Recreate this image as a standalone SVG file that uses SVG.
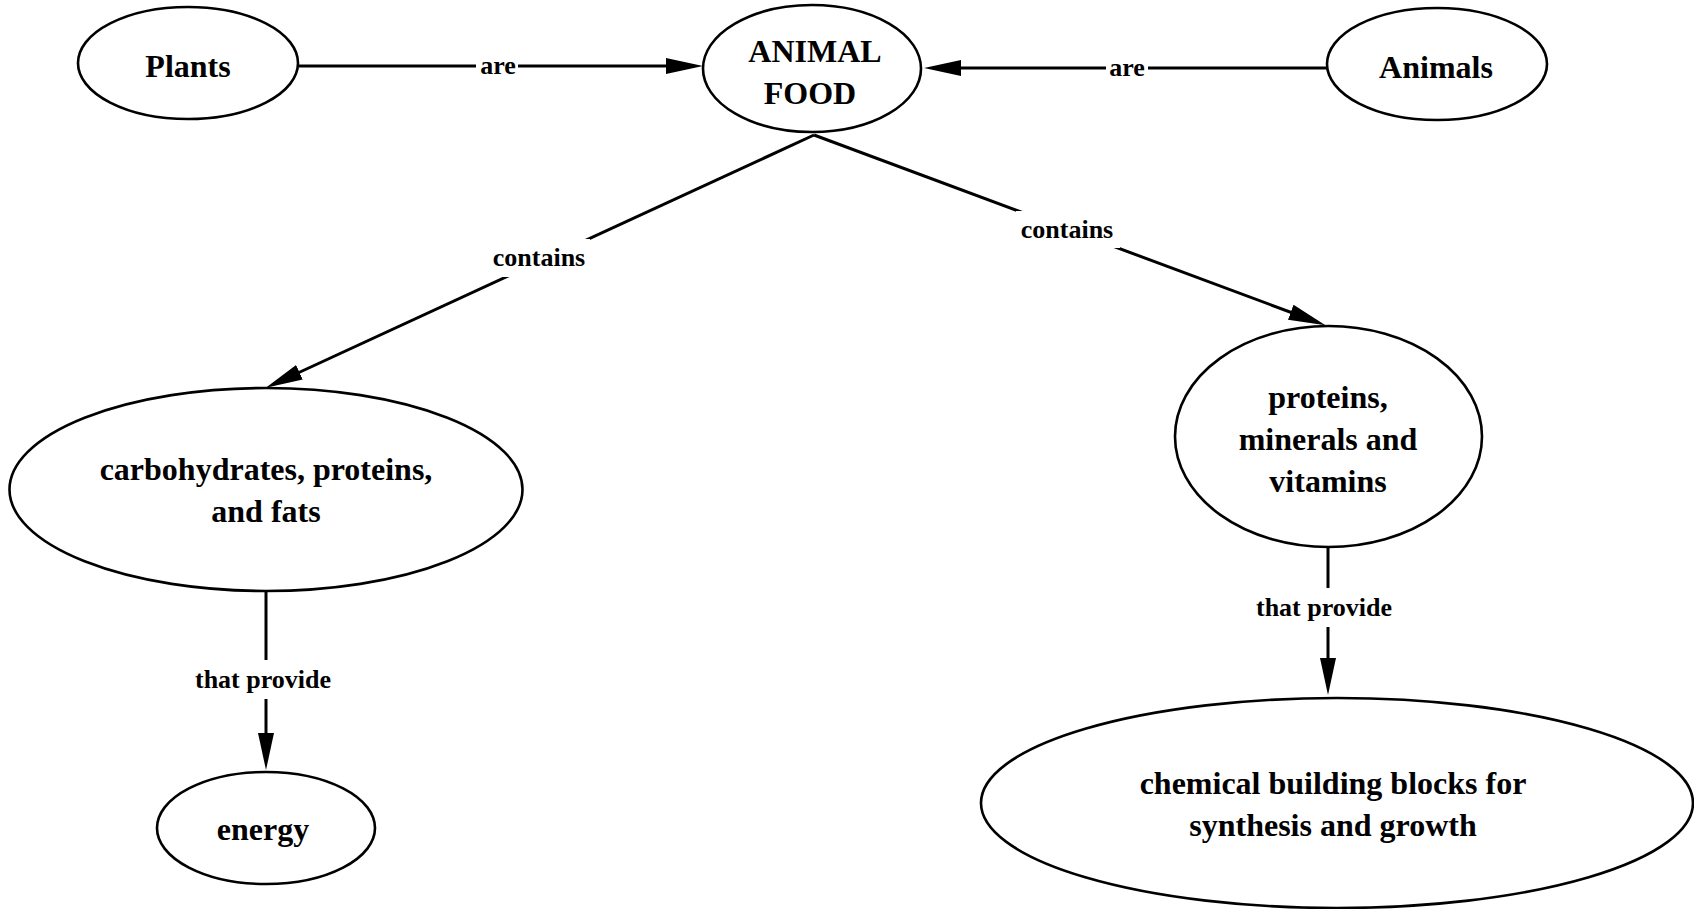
<svg xmlns="http://www.w3.org/2000/svg" width="1694" height="909" viewBox="0 0 1694 909">
  <style>
    .node ellipse { fill: #ffffff; stroke: #000000; stroke-width: 2.6; }
    .node text { font-family: "Liberation Serif", "Times New Roman", serif; font-weight: bold; font-size: 32px; fill: #000000; text-anchor: middle; }
    .edge { fill: none; stroke: #000000; stroke-width: 3; }
    .lbl-bg { fill: #ffffff; stroke: none; }
    .lbl { font-family: "Liberation Serif", "Times New Roman", serif; font-weight: bold; font-size: 26px; fill: #000000; text-anchor: middle; }
  </style>
  <defs>
    <marker id="arrow" markerUnits="userSpaceOnUse" markerWidth="40" markerHeight="20" refX="28" refY="8" orient="auto">
      <path d="M0,0 L37,8 L0,16 Z" fill="#000000"/>
    </marker>
  </defs>
  <rect width="1694" height="909" fill="#ffffff"/>

  <!-- connectors -->
  <g id="connectors">
    <!-- Plants -> ANIMAL FOOD -->
    <line class="edge" x1="299" y1="66" x2="694" y2="66" marker-end="url(#arrow)"/>
    <rect class="lbl-bg" x="476" y="52" width="42" height="28"/>
    <text class="lbl" x="498" y="74">are</text>

    <!-- Animals -> ANIMAL FOOD -->
    <line class="edge" x1="1327" y1="68" x2="933" y2="68" marker-end="url(#arrow)"/>
    <rect class="lbl-bg" x="1106" y="54" width="42" height="28"/>
    <text class="lbl" x="1127" y="76">are</text>

    <!-- ANIMAL FOOD -> carbohydrates -->
    <line class="edge" x1="814" y1="135" x2="274" y2="384" marker-end="url(#arrow)"/>
    <rect class="lbl-bg" x="488" y="239" width="102" height="38"/>
    <text class="lbl" x="539" y="266">contains</text>

    <!-- ANIMAL FOOD -> proteins -->
    <line class="edge" x1="814" y1="135" x2="1317" y2="322" marker-end="url(#arrow)"/>
    <rect class="lbl-bg" x="1016" y="211" width="104" height="37"/>
    <text class="lbl" x="1067" y="238">contains</text>

    <!-- carbohydrates -> energy -->
    <line class="edge" x1="266" y1="591" x2="266" y2="761" marker-end="url(#arrow)"/>
    <rect class="lbl-bg" x="190" y="660" width="150" height="39"/>
    <text class="lbl" x="263" y="688">that provide</text>

    <!-- proteins -> chemical building blocks -->
    <line class="edge" x1="1328" y1="547" x2="1328" y2="686" marker-end="url(#arrow)"/>
    <rect class="lbl-bg" x="1250" y="588" width="150" height="39"/>
    <text class="lbl" x="1324" y="616">that provide</text>
  </g>

  <!-- nodes -->
  <g id="node-plants" class="node">
    <ellipse cx="188" cy="63" rx="110" ry="56"/>
    <text x="188" y="77">Plants</text>
  </g>

  <g id="node-animal-food" class="node">
    <ellipse cx="812" cy="68.5" rx="109" ry="63.5"/>
    <text x="815" y="62">ANIMAL</text>
    <text x="810" y="104">FOOD</text>
  </g>

  <g id="node-animals" class="node">
    <ellipse cx="1437" cy="64" rx="110" ry="56"/>
    <text x="1436" y="78">Animals</text>
  </g>

  <g id="node-carbohydrates" class="node">
    <ellipse cx="266" cy="489.5" rx="256.5" ry="101.5"/>
    <text x="266" y="480">carbohydrates, proteins,</text>
    <text x="266" y="522">and fats</text>
  </g>

  <g id="node-proteins" class="node">
    <ellipse cx="1328.5" cy="436.5" rx="153.5" ry="110.5"/>
    <text x="1328" y="408">proteins,</text>
    <text x="1328" y="450">minerals and</text>
    <text x="1328" y="492">vitamins</text>
  </g>

  <g id="node-energy" class="node">
    <ellipse cx="266" cy="828" rx="109" ry="56"/>
    <text x="263" y="840">energy</text>
  </g>

  <g id="node-chemical" class="node">
    <ellipse cx="1337" cy="803" rx="356" ry="105"/>
    <text x="1333" y="794">chemical building blocks for</text>
    <text x="1333" y="836">synthesis and growth</text>
  </g>
</svg>
